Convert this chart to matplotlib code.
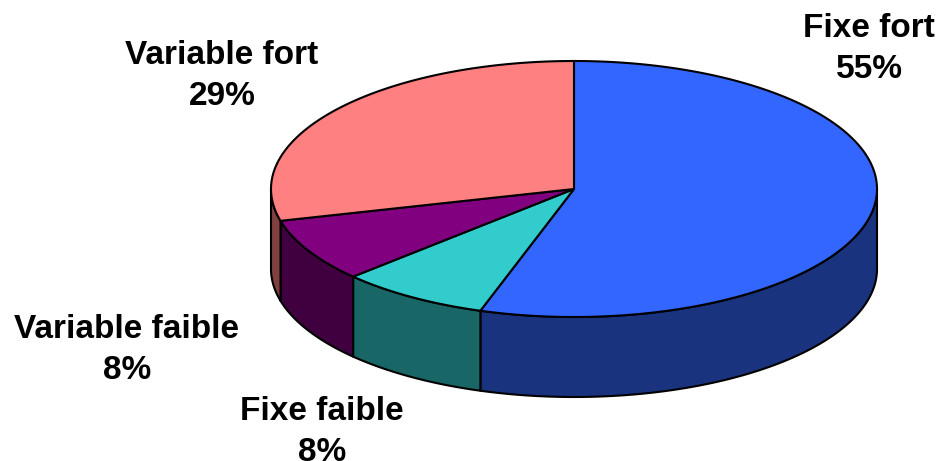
import numpy as np
import matplotlib
matplotlib.use("Agg")
import matplotlib.pyplot as plt

labels = ["Fixe fort", "Fixe faible", "Variable faible", "Variable fort"]
values = [55, 8, 8, 29]
top_colors = ["#3366FF", "#33CCCC", "#800080", "#FF8080"]
side_colors = ["#19337F", "#196666", "#400040", "#804040"]
label_pos = [(869, 49), (322, 432), (127, 350), (222, 76)]

cx, cy = 574, 189
rx, ry = 303, 128
depth = 80


def arc(a0, a1):
    t = np.radians(np.linspace(a0, a1, 200))
    return cx + rx * np.cos(t), cy - ry * np.sin(t)


fig = plt.figure(figsize=(9.38, 4.61), dpi=100)
ax = fig.add_axes([0, 0, 1, 1])
ax.set_xlim(0, 938)
ax.set_ylim(461, 0)
ax.axis("off")

fracs = np.array(values) / sum(values)
angles = 90 - 360 * np.concatenate([[0], np.cumsum(fracs)])

# 側面 (下半分だけ見える)
for i in range(len(values)):
    a0 = min(angles[i], -0.0)
    a1 = max(angles[i + 1], -180)
    if a0 <= a1:
        continue
    x, y = arc(a0, a1)
    xs = np.concatenate([x, x[::-1]])
    ys = np.concatenate([y, y[::-1] + depth])
    ax.fill(xs, ys, facecolor=side_colors[i], edgecolor="black", lw=1.5, joinstyle="round")

# 上面
for i in range(len(values)):
    x, y = arc(angles[i], angles[i + 1])
    ax.fill(np.r_[cx, x], np.r_[cy, y], facecolor=top_colors[i], edgecolor="black", lw=1.5, joinstyle="round")

for i, name in enumerate(labels):
    ax.text(label_pos[i][0], label_pos[i][1], f"{name}\n{values[i]}%", ha="center", va="center",
            family="Liberation Sans", weight="bold", fontsize=24, linespacing=1.38, color="black",
            clip_on=False)

fig.savefig("out.png", dpi=100)
